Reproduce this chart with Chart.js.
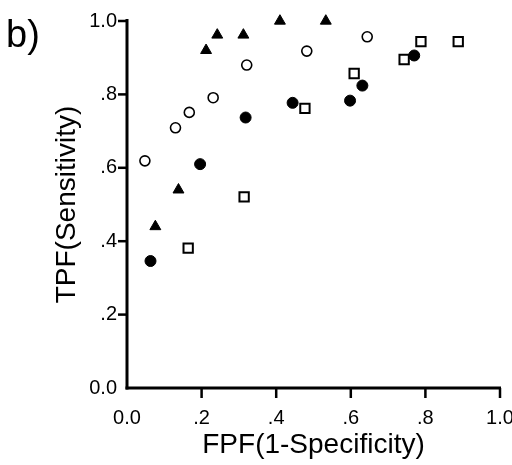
<!DOCTYPE html>
<html>
<head>
<meta charset="utf-8">
<script src="https://cdn.jsdelivr.net/npm/chart.js@4/dist/chart.umd.min.js"></script>
<style>
  html, body { margin: 0; padding: 0; background: #fff; }
  #wrap { width: 512px; height: 465px; position: relative; }
</style>
</head>
<body>
<div id="wrap"><canvas id="roc"></canvas></div>
<script>
// ROC points (FPF on x, TPF on y)
const triFpf = [0.076, 0.138, 0.212, 0.242, 0.312, 0.410, 0.533];
const triTpf = [0.44, 0.54, 0.92, 0.962, 0.962, 1.0, 1.0];

const openCircFpf = [0.048, 0.130, 0.167, 0.231, 0.321, 0.482, 0.644];
const openCircTpf = [0.619, 0.709, 0.751, 0.791, 0.880, 0.918, 0.957];

const dotFpf = [0.063, 0.196, 0.318, 0.444, 0.598, 0.631, 0.770];
const dotTpf = [0.346, 0.610, 0.737, 0.777, 0.783, 0.824, 0.906];

const squareFpf = [0.164, 0.314, 0.477, 0.609, 0.743, 0.788, 0.888];
const squareTpf = [0.381, 0.521, 0.762, 0.857, 0.895, 0.944, 0.944];

const xTickLabels = ['0.0', '.2', '.4', '.6', '.8', '1.0'];
const yTickLabels = ['0.0', '.2', '.4', '.6', '.8', '1.0'];

const FONT = '"Liberation Sans", Arial, Helvetica, sans-serif';

Chart.defaults.color = '#000';
Chart.defaults.font.family = FONT;

function toPoints(xs, ys) {
  return xs.map((x, i) => ({x: x, y: ys[i]}));
}

// panel letter in the top-left corner
const panelLabel = {
  id: 'panelLabel',
  afterDraw(chart) {
    const ctx = chart.ctx;
    ctx.save();
    ctx.fillStyle = '#000';
    ctx.font = '38px ' + FONT;
    ctx.fillText('b)', 6, 47);
    ctx.restore();
  }
};

// heavy L-shaped frame with outward ticks, placed from the scales
const axisFrame = {
  id: 'axisFrame',
  afterDraw(chart) {
    const ctx = chart.ctx;
    const a = chart.chartArea;
    const xs = chart.scales.x, ys = chart.scales.y;
    ctx.save();
    ctx.fillStyle = '#000';
    ctx.fillRect(a.left - 1.5, a.top - 2, 3, a.bottom - a.top + 3.5);
    ctx.fillRect(a.left - 1.5, a.bottom - 1.5, a.right - a.left + 2.5, 3);
    xs.ticks.forEach(t => {
      if (t.value === 0) return;
      const px = xs.getPixelForValue(t.value);
      ctx.fillRect(px - 1.25, a.bottom, 2.5, 10);
    });
    ys.ticks.forEach(t => {
      if (t.value === 0) return;
      const py = ys.getPixelForValue(t.value);
      ctx.fillRect(a.left - 9, py - 1.25, 9, 2.5);
    });
    ctx.restore();
  }
};

new Chart(document.getElementById('roc'), {
  type: 'scatter',
  data: {
    datasets: [
      {
        data: toPoints(triFpf, triTpf),
        pointStyle: 'triangle', pointRadius: 6.3,
        backgroundColor: '#000', borderColor: '#000', borderWidth: 1, clip: false
      },
      {
        data: toPoints(openCircFpf, openCircTpf),
        pointStyle: 'circle', pointRadius: 5,
        backgroundColor: '#fff', borderColor: '#000', borderWidth: 1.6, clip: false
      },
      {
        data: toPoints(dotFpf, dotTpf),
        pointStyle: 'circle', pointRadius: 5.5,
        backgroundColor: '#000', borderColor: '#000', borderWidth: 1, clip: false
      },
      {
        data: toPoints(squareFpf, squareTpf),
        pointStyle: 'rect', pointRadius: 6.6,
        backgroundColor: '#fff', borderColor: '#000', borderWidth: 2, clip: false
      }
    ]
  },
  options: {
    responsive: true,
    maintainAspectRatio: false,
    animation: false,
    layout: { padding: { top: 21, right: 12, left: 0, bottom: 0 } },
    plugins: { legend: { display: false } },
    scales: {
      x: {
        type: 'linear', min: 0, max: 1,
        afterFit: s => { s.height = 77; s.paddingRight = 12; },
        border: { display: false },
        grid: { display: false, drawTicks: true, tickLength: 10 },
        ticks: {
          stepSize: 0.2, padding: 8, maxRotation: 0,
          font: { size: 20 },
          callback: (v, i) => xTickLabels[i]
        },
        title: {
          display: true, text: 'FPF(1-Specificity)',
          font: { size: 28 }, padding: { top: 0, bottom: 3 }
        }
      },
      y: {
        type: 'linear', min: 0, max: 1,
        afterFit: s => { s.width = 127; },
        border: { display: false },
        grid: { display: false, drawTicks: true, tickLength: 9 },
        ticks: {
          stepSize: 0.2, padding: 1,
          font: { size: 20 },
          callback: (v, i) => yTickLabels[i]
        },
        title: {
          display: true, text: 'TPF(Sensitivity)',
          font: { size: 28 }, padding: { top: 50, bottom: 0 }
        }
      }
    }
  },
  plugins: [axisFrame, panelLabel]
});
</script>
</body>
</html>
